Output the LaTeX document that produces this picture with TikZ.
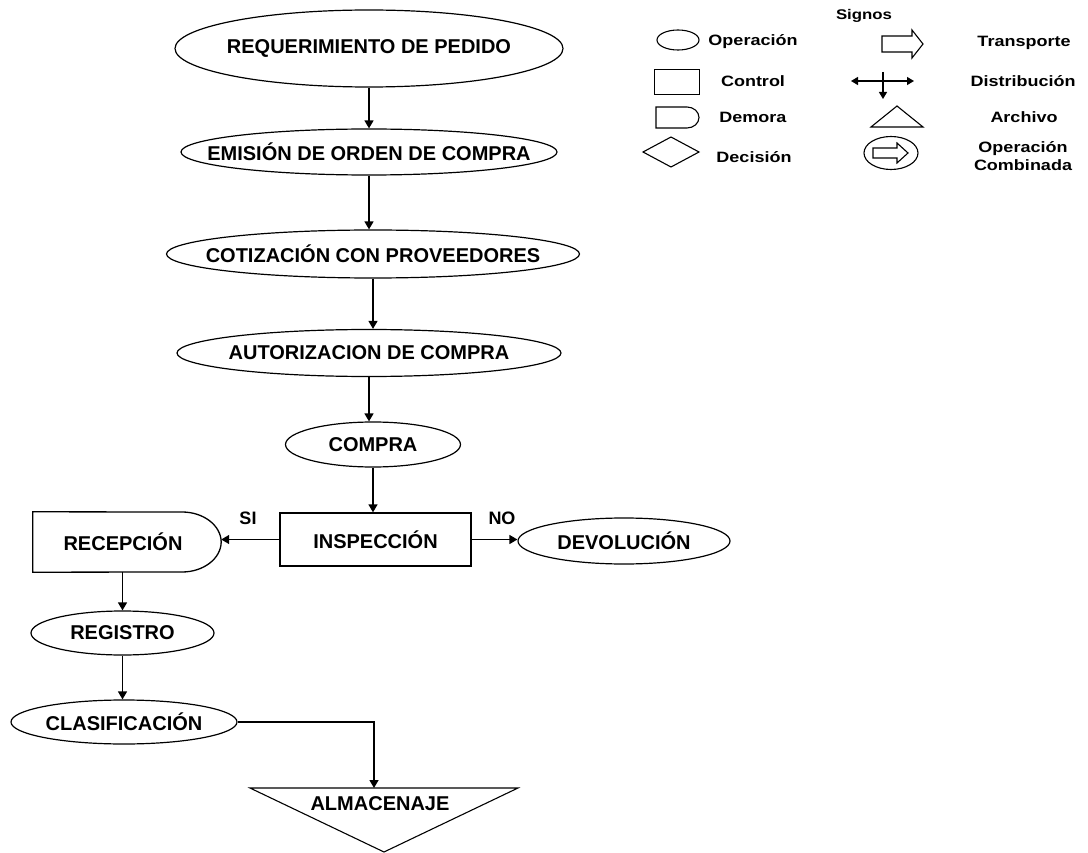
\documentclass[tikz,border=0pt]{standalone}
\usepackage{fontspec}
\setmainfont{Liberation Sans}
\newfontfamily\legfont{Liberation Sans}[FakeStretch=1.2]
\usetikzlibrary{arrows.meta,shapes.geometric}
\newcommand{\ctext}[1]{\makebox[0pt]{#1}}
\begin{document}
\begin{tikzpicture}[x=1pt,y=-1pt,
  lab/.style={font=\fontsize{20}{22}\selectfont\bfseries, inner sep=0pt},
  oval/.style={ellipse, draw, line width=1.2pt, lab},
  box/.style={rectangle, draw, line width=1.3pt, lab},
  arr/.style={line width=1.4pt, -{Triangle[length=8pt,width=9pt]}},
  tag/.style={font=\fontsize{18}{20}\selectfont\bfseries, inner sep=0pt},
  leg/.style={font=\legfont\fontsize{15}{17.5}\selectfont\bfseries, inner sep=0pt},
  shp/.style={draw, line width=1.1pt}
]
\useasboundingbox[fill=white] (0,0) rectangle (1088,853);

% ---------------- main flow ----------------
\node[oval, minimum width=388pt, minimum height=77pt] (e1) at (369,48.5) {\ctext{REQUERIMIENTO DE PEDIDO}};
\node[oval, minimum width=376pt, minimum height=46pt] (e2) at (369,152) {\ctext{EMISIÓN DE ORDEN DE COMPRA}};
\node[oval, minimum width=413pt, minimum height=48pt] (e3) at (373,254) {\ctext{COTIZACIÓN CON PROVEEDORES}};
\node[oval, minimum width=384pt, minimum height=47pt] (e4) at (369,353) {\ctext{AUTORIZACION DE COMPRA}};
\node[oval, minimum width=175pt, minimum height=45pt] (e5) at (373,444.5) {\ctext{COMPRA}};
\node[box, minimum width=191pt, minimum height=53pt] (insp) at (375.5,539.5) {INSPECCIÓN};
\node[oval, minimum width=212pt, minimum height=46pt] (dev) at (624,541) {\ctext{DEVOLUCIÓN}};
\node[lab, minimum width=188pt, minimum height=60pt] (rec) at (127,542) {\ctext{RECEPCIÓN\hspace{8pt}}};
\node[oval, minimum width=183pt, minimum height=44pt] (reg) at (122.5,633) {\ctext{REGISTRO}};
\node[oval, minimum width=226pt, minimum height=44pt] (clas) at (124,722) {\ctext{CLASIFICACIÓN}};
\node[lab] (alm) at (380,804) {ALMACENAJE};

% demora outline of RECEPCION
\draw[line width=1.3pt] (rec.north west) -- (182,512)
  .. controls (203.5,512) and (221,525.4) .. (rec.east)
  .. controls (221,558.6) and (203.5,572) .. (182,572)
  -- (rec.south west) -- cycle;

% archivo triangle of ALMACENAJE
\coordinate (t1) at (250,788);
\coordinate (t2) at (518,788);
\coordinate (t3) at (384,852);
\coordinate (almin) at (374,788);
\draw[line width=1.1pt] (t1) -- (t2) -- (t3) -- cycle;

% connectors
\draw[arr] (e1.south) -- (e1.south |- e2.north);
\draw[arr] (e2.south) -- (e2.south |- e3.north);
\draw[arr] (e3.south) -- (e3.south |- e4.north);
\draw[arr] (e4.south) -- (e4.south |- e5.north);
\draw[arr] (e5.south) -- (e5.south |- insp.north);
\draw[arr] (insp.west) -- (insp.west -| rec.east);
\draw[arr] (insp.east) -- (insp.east -| dev.west);
\draw[arr] (reg.north |- rec.south) -- (reg.north);
\draw[arr] (reg.south) -- (reg.south |- clas.north);
\draw[arr] (clas.east) -| (almin);

\node[tag] (si) at (248,518.5) {SI};
\node[tag] (no) at (502,518.5) {NO};

% ---------------- legend ----------------
\node[font=\legfont\fontsize{14}{14}\selectfont\bfseries, inner sep=0pt] (signos) at (864,16) {Signos};

\node[ellipse, shp, minimum width=42pt, minimum height=20pt, inner sep=0pt] (lop) at (678,40) {};
\node[leg] (lopt) at (753,42) {Operación};

\node[rectangle, shp, minimum width=45pt, minimum height=25pt, inner sep=0pt] (lctl) at (677,82) {};
\node[leg] (lctlt) at (753,81) {Control};

\draw[shp] (656,107) -- (687,107) .. controls (693.6,107) and (699,111.7) .. (699,117.5)
  .. controls (699,123.3) and (693.6,128) .. (687,128) -- (656,128) -- cycle;
\node[leg] (ldemt) at (753,117) {Demora};

\draw[shp] (643,152) -- (671,137) -- (699,152) -- (671,167) -- cycle;
\node[leg] (ldect) at (754,157) {Decisión};

\draw[shp] (882,36) -- (912,36) -- (912,30) -- (923,44) -- (912,58) -- (912,52) -- (882,52) -- cycle;
\node[leg] (ltrt) at (1024,43) {Transporte};

\draw[line width=1.3pt, {Triangle[length=7pt,width=8pt]}-{Triangle[length=7pt,width=8pt]}] (851,81) -- (914,81);
\draw[line width=1.3pt, -{Triangle[length=7pt,width=8pt]}] (883,72) -- (883,99);
\node[leg] (ldist) at (1023,81) {Distribución};

\draw[shp] (871,127) -- (923,127) -- (897,106) -- cycle;
\node[leg] (larch) at (1024,117) {Archivo};

\node[ellipse, shp, minimum width=54pt, minimum height=33pt, inner sep=0pt] (lcomb) at (891,153) {};
\draw[shp] (873,148) -- (897,148) -- (897,143) -- (908,153) -- (897,163) -- (897,158) -- (873,158) -- cycle;
\node[leg, align=center] (lcombt) at (1023,156) {Operación\\Combinada};
\end{tikzpicture}
\end{document}
